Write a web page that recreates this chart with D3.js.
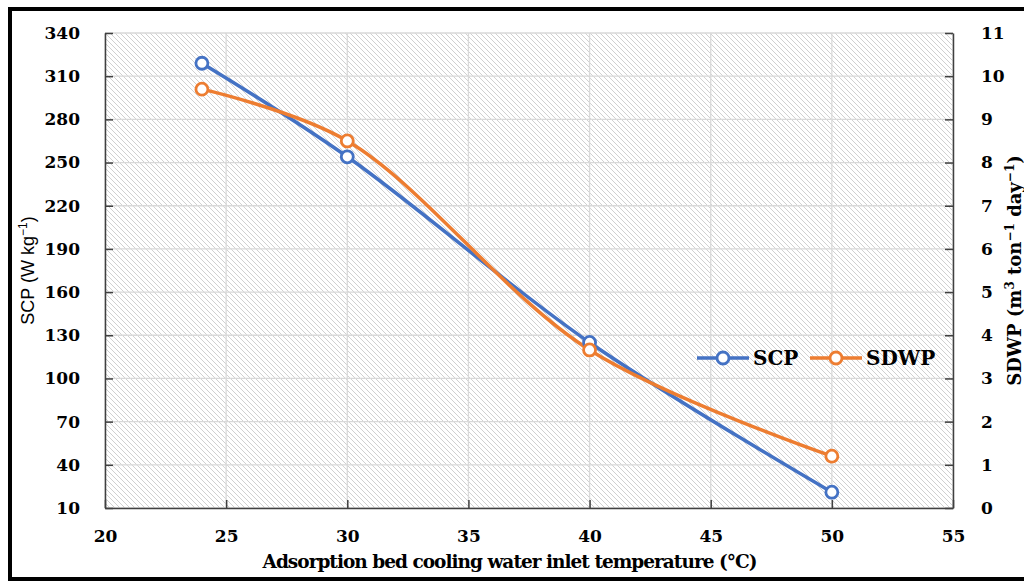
<!DOCTYPE html>
<html lang="en">
<meta charset="utf-8">
<style>
body { margin: 0; background: #fff; }
.tick text { font-family: "DejaVu Serif", serif; font-weight: bold; font-size: 17px; fill: #000; }
.grid line { stroke: #d9d9d9; stroke-width: 1.3px; }
.line { fill: none; stroke-width: 3.5px; }
.serif { font-family: "DejaVu Serif", serif; font-weight: bold; }
</style>
<body>
<script src="https://d3js.org/d3.v7.min.js"></script>
<script>

// values
var temps = [24, 30, 40, 50];
var scp = [319, 254, 125, 21];
var sdwp = [9.7, 8.5, 3.66, 1.2];
var xTicks = [20, 25, 30, 35, 40, 45, 50, 55];
var leftTicks = d3.range(10, 341, 30);
var rightTicks = d3.range(0, 12, 1);

var margin = {top: 33, right: 71, bottom: 73, left: 105},
    W = 1024, H = 581,
    width = W - margin.left - margin.right,
    height = H - margin.top - margin.bottom;

var x = d3.scaleLinear().domain([20, 55]).range([0, width]);
var yL = d3.scaleLinear().domain([10, 340]).range([height, 0]);
var yR = d3.scaleLinear().domain([0, 11]).range([height, 0]);

var svg = d3.select("body").append("svg")
    .attr("width", W)
    .attr("height", H);

// hatch fill
var defs = svg.append("defs");
defs.append("pattern")
    .attr("id", "hatch")
    .attr("patternUnits", "userSpaceOnUse")
    .attr("width", 5).attr("height", 5)
  .append("path")
    .attr("d", "M-1,-1 L6,6 M-1,4 L1,6 M4,-1 L6,1")
    .attr("stroke", "#d0d0d0")
    .attr("stroke-width", 1);

// outer frame (right side cut off)
svg.append("path")
    .attr("d", "M1030,9 L10,9 L10,579 L1030,579")
    .attr("fill", "none")
    .attr("stroke", "#000")
    .attr("stroke-width", 4);

var g = svg.append("g")
    .attr("transform", "translate(" + margin.left + "," + margin.top + ")");

g.append("rect")
    .attr("width", width).attr("height", height)
    .attr("fill", "url(#hatch)");

// gridlines
g.append("g").attr("class", "grid")
    .selectAll("line").data(leftTicks).join("line")
    .attr("x1", 0).attr("x2", width)
    .attr("y1", d => yL(d)).attr("y2", d => yL(d));
g.append("g").attr("class", "grid")
    .selectAll("line").data(xTicks).join("line")
    .attr("y1", 0).attr("y2", height)
    .attr("x1", d => x(d)).attr("x2", d => x(d));

// axes
function styleAxis(sel) {
  sel.select(".domain").attr("stroke", "#404040").attr("stroke-width", 1.5);
  sel.selectAll(".tick line").attr("stroke", "#404040").attr("stroke-width", 1.5);
}

g.append("g")
    .attr("transform", "translate(0," + height + ")")
    .call(d3.axisBottom(x).tickValues(xTicks).tickSizeInner(-8).tickSizeOuter(0).tickPadding(22))
    .call(styleAxis);

g.append("g")
    .call(d3.axisLeft(yL).tickValues(leftTicks).tickSizeInner(-8).tickSizeOuter(0).tickPadding(25))
    .call(styleAxis);

var right = g.append("g")
    .attr("transform", "translate(" + width + ",0)")
    .call(d3.axisRight(yR).tickValues(rightTicks).tickSizeInner(-8).tickSizeOuter(0).tickPadding(28))
    .call(styleAxis);
right.selectAll(".tick text").attr("text-anchor", "start");

// series lines
var scpData = temps.map((t, i) => ({x: t, y: scp[i]}));
var sdwpData = temps.map((t, i) => ({x: t, y: sdwp[i]}));

var lineL = d3.line().x(d => x(d.x)).y(d => yL(d.y)).curve(d3.curveCatmullRom.alpha(0.5));
var lineR = d3.line().x(d => x(d.x)).y(d => yR(d.y)).curve(d3.curveCatmullRom.alpha(0.5));

var blue = "#4472c4", orange = "#ed7d31";

g.append("path").datum(scpData).attr("class", "line").attr("stroke", blue).attr("d", lineL);
g.append("path").datum(sdwpData).attr("class", "line").attr("stroke", orange).attr("d", lineR);

g.selectAll(".scp-pt").data(scpData).join("circle")
    .attr("cx", d => x(d.x)).attr("cy", d => yL(d.y)).attr("r", 6)
    .attr("fill", "#fff").attr("stroke", blue).attr("stroke-width", 2.8);
g.selectAll(".sdwp-pt").data(sdwpData).join("circle")
    .attr("cx", d => x(d.x)).attr("cy", d => yR(d.y)).attr("r", 6)
    .attr("fill", "#fff").attr("stroke", orange).attr("stroke-width", 2.8);

// legend
var legend = [{name: "SCP", color: blue, x0: 697}, {name: "SDWP", color: orange, x0: 810}];
var lg = svg.append("g").selectAll("g").data(legend).join("g")
    .attr("transform", d => "translate(" + d.x0 + ",358)");
lg.append("line").attr("x1", 0).attr("x2", 52)
    .attr("stroke", d => d.color).attr("stroke-width", 3.5);
lg.append("circle").attr("cx", 26).attr("r", 6)
    .attr("fill", "#fff").attr("stroke", d => d.color).attr("stroke-width", 2.8);
lg.append("text").attr("class", "serif").attr("x", 56).attr("y", 7)
    .style("font-size", "20px").text(d => d.name);

// axis titles
svg.append("text").attr("class", "serif")
    .attr("x", 510).attr("y", 568)
    .attr("text-anchor", "middle")
    .style("font-size", "18.5px")
    .attr("textLength", 495)
    .text("Adsorption bed cooling water inlet temperature (°C)");

svg.append("text")
    .attr("transform", "translate(34," + (margin.top + height / 2) + ") rotate(-90)")
    .attr("text-anchor", "middle")
    .style("font-family", "Liberation Sans, sans-serif")
    .style("font-size", "18px")
    .html('SCP (W kg<tspan dy="-7" font-size="12px">−1</tspan><tspan dy="7">)</tspan>');

svg.append("text").attr("class", "serif")
    .attr("transform", "translate(1021," + (margin.top + height / 2) + ") rotate(-90)")
    .attr("text-anchor", "middle")
    .style("font-size", "18px")
    .html('SDWP (m<tspan dy="-7" font-size="12px">3</tspan><tspan dy="7"> ton</tspan><tspan dy="-7" font-size="12px">−1</tspan><tspan dy="7"> day</tspan><tspan dy="-7" font-size="12px">−1</tspan><tspan dy="7">)</tspan>');

</script>
</body>
</html>
